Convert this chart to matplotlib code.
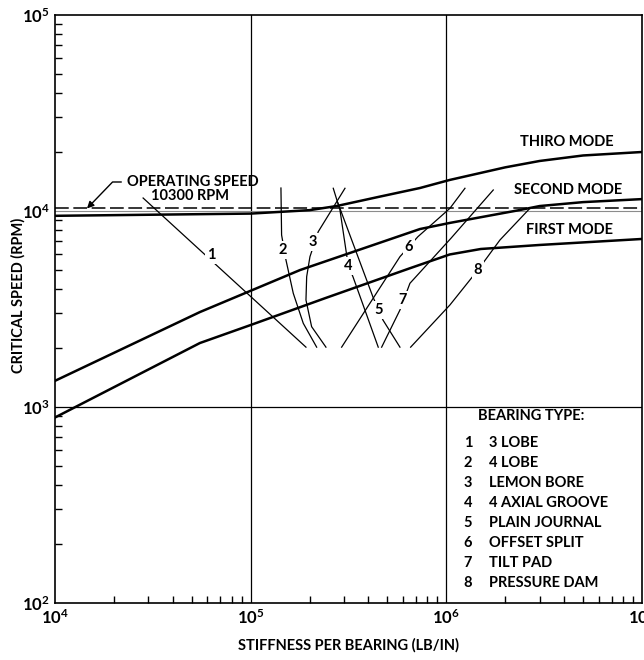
import numpy as np
import matplotlib
matplotlib.use('Agg')
import matplotlib.pyplot as plt
from matplotlib.ticker import LogLocator, NullFormatter

plt.rcParams['font.family'] = ['Lato', 'DejaVu Sans']
plt.rcParams['font.weight'] = 'bold'
plt.rcParams['mathtext.default'] = 'regular'

# critical speed maps: stiffness (lb/in) vs speed (rpm)
first_k = [1e4, 5.5e4, 1e5, 2.4e5, 6.5e5, 1.04e6, 1.5e6, 3.0e6, 1e7]
first_rpm = [884, 2120, 2620, 3590, 5100, 6000, 6400, 6710, 7200]
second_k = [1e4, 5.5e4, 1.79e5, 7.33e5, 1.04e6, 2.38e6, 3.0e6, 5e6, 1e7]
second_rpm = [1360, 3050, 5000, 8090, 8690, 10120, 10600, 11100, 11500]
third_k = [1e4, 1e5, 2e5, 2.75e5, 4.5e5, 7.33e5, 1.04e6, 2e6, 3.0e6, 5e6, 1e7]
third_rpm = [9450, 9700, 10100, 10600, 11800, 13100, 14400, 16700, 18000, 19200, 20000]
mode_names = ['FIRST MODE', 'SECOND MODE', 'THIRO MODE']

operating_speed = 10300

bearing_names = ['3 LOBE', '4 LOBE', 'LEMON BORE', '4 AXIAL GROOVE',
                 'PLAIN JOURNAL', 'OFFSET SPLIT', 'TILT PAD', 'PRESSURE DAM']
bearing_k = [
    [28200, 191700],
    [142800, 143900, 151500, 165100, 185700, 217400],
    [303400, 221500, 200900, 193300, 191700, 204900, 242500],
    [264300, 286000, 315300, 333200, 448700],
    [279300, 421700, 474300, 579300],
    [291700, 579300, 716000, 1043000, 1245000],
    [467100, 579300, 651600, 1055000, 1737000],
    [657000, 1043000, 1450000, 1879000, 2674000],
]
bearing_rpm = [
    [11650, 2020],
    [13100, 7546, 5623, 3803, 2673, 2020],
    [13060, 7843, 5846, 4622, 3515, 2569, 2020],
    [13060, 10120, 5259, 4622, 2020],
    [10980, 3641, 2779, 2020],
    [2020, 5846, 7397, 10320, 13060],
    [2020, 3125, 4277, 7250, 12800],
    [2020, 3315, 5000, 7112, 10320],
]
label_k = [62700, 146000, 207400, 315300, 452400, 644200, 600100, 1450000]
label_rpm = [5964, 6324, 6972, 5259, 3125, 6550, 3515, 5000]

fs = 10.5

fig = plt.figure(figsize=(6.44, 6.60), dpi=100)
ax = fig.add_axes([55/644, 1-603/660, 587/644, 588/660])
ax.set_xscale('log')
ax.set_yscale('log')
ax.set_xlim(1e4, 1e7)
ax.set_ylim(1e2, 1e5)

# grid at decades
for v in [1e5, 1e6]:
    ax.axvline(v, color='black', lw=0.9, zorder=1)
ax.axhline(1e3, color='black', lw=0.9, zorder=1)
ax.axhline(1e4, color='0.55', lw=0.8, zorder=1)
ax.axhline(operating_speed, color='black', lw=1.1, ls=(0, (9, 3)), zorder=2)

# mode curves
ax.plot(first_k, first_rpm, color='black', lw=1.8, zorder=3)
ax.plot(second_k, second_rpm, color='black', lw=1.8, zorder=3)
ax.plot(third_k, third_rpm, color='black', lw=1.8, zorder=3)
ax.text(4.28e6, 8000, mode_names[0], ha='center', va='center', fontsize=fs)
ax.text(4.2e6, 12800, mode_names[1], ha='center', va='center', fontsize=fs)
ax.text(4.13e6, 22480, mode_names[2], ha='center', va='center', fontsize=fs)

# bearing curves
for i in range(len(bearing_k)):
    ax.plot(bearing_k[i], bearing_rpm[i], color='black', lw=0.9, zorder=4)
    ax.text(label_k[i], label_rpm[i], str(i + 1), ha='center', va='center',
            fontsize=fs, zorder=5,
            bbox=dict(facecolor='white', edgecolor='none', pad=1.5))

# operating speed callout
ax.annotate('OPERATING SPEED', xy=(14570, operating_speed), xytext=(23300, 14060),
            ha='left', va='center', fontsize=fs,
            arrowprops=dict(arrowstyle='-|>', color='black', lw=1.0,
                            shrinkA=2, shrinkB=0, mutation_scale=10,
                            connectionstyle='angle,angleA=0,angleB=46,rad=0'))
ax.text(49000, 11900, '%d RPM' % operating_speed, ha='center', va='center',
        fontsize=fs)

# bearing type key
ax.text(0.72, 0.318, 'BEARING TYPE:', transform=ax.transAxes, ha='left',
        va='center', fontsize=fs)
for i, name in enumerate(bearing_names):
    y = 0.272 - i * 0.034
    ax.text(0.7036, y, str(i + 1), transform=ax.transAxes, ha='center',
            va='center', fontsize=fs)
    ax.text(0.739, y, name, transform=ax.transAxes, ha='left', va='center',
            fontsize=fs)

ax.xaxis.set_major_locator(LogLocator(base=10, numticks=10))
ax.yaxis.set_major_locator(LogLocator(base=10, numticks=10))
ax.xaxis.set_minor_locator(LogLocator(base=10, subs=np.arange(2, 10), numticks=20))
ax.yaxis.set_minor_locator(LogLocator(base=10, subs=np.arange(2, 10), numticks=20))
ax.xaxis.set_minor_formatter(NullFormatter())
ax.yaxis.set_minor_formatter(NullFormatter())
ax.tick_params(which='both', direction='in', top=False, right=False,
               labelsize=12, width=1.0)
ax.tick_params(which='major', length=0, pad=4)
ax.tick_params(which='minor', length=5)
for s in ax.spines.values():
    s.set_linewidth(1.2)

fig.text(18/644, 1-295/660, 'CRITICAL SPEED (RPM)', rotation=90, ha='center',
         va='center', fontsize=fs)
fig.text(348/644, 1-645/660, 'STIFFNESS PER BEARING (LB/IN)', ha='center',
         va='center', fontsize=fs)

fig.savefig('out.png', dpi=100)
